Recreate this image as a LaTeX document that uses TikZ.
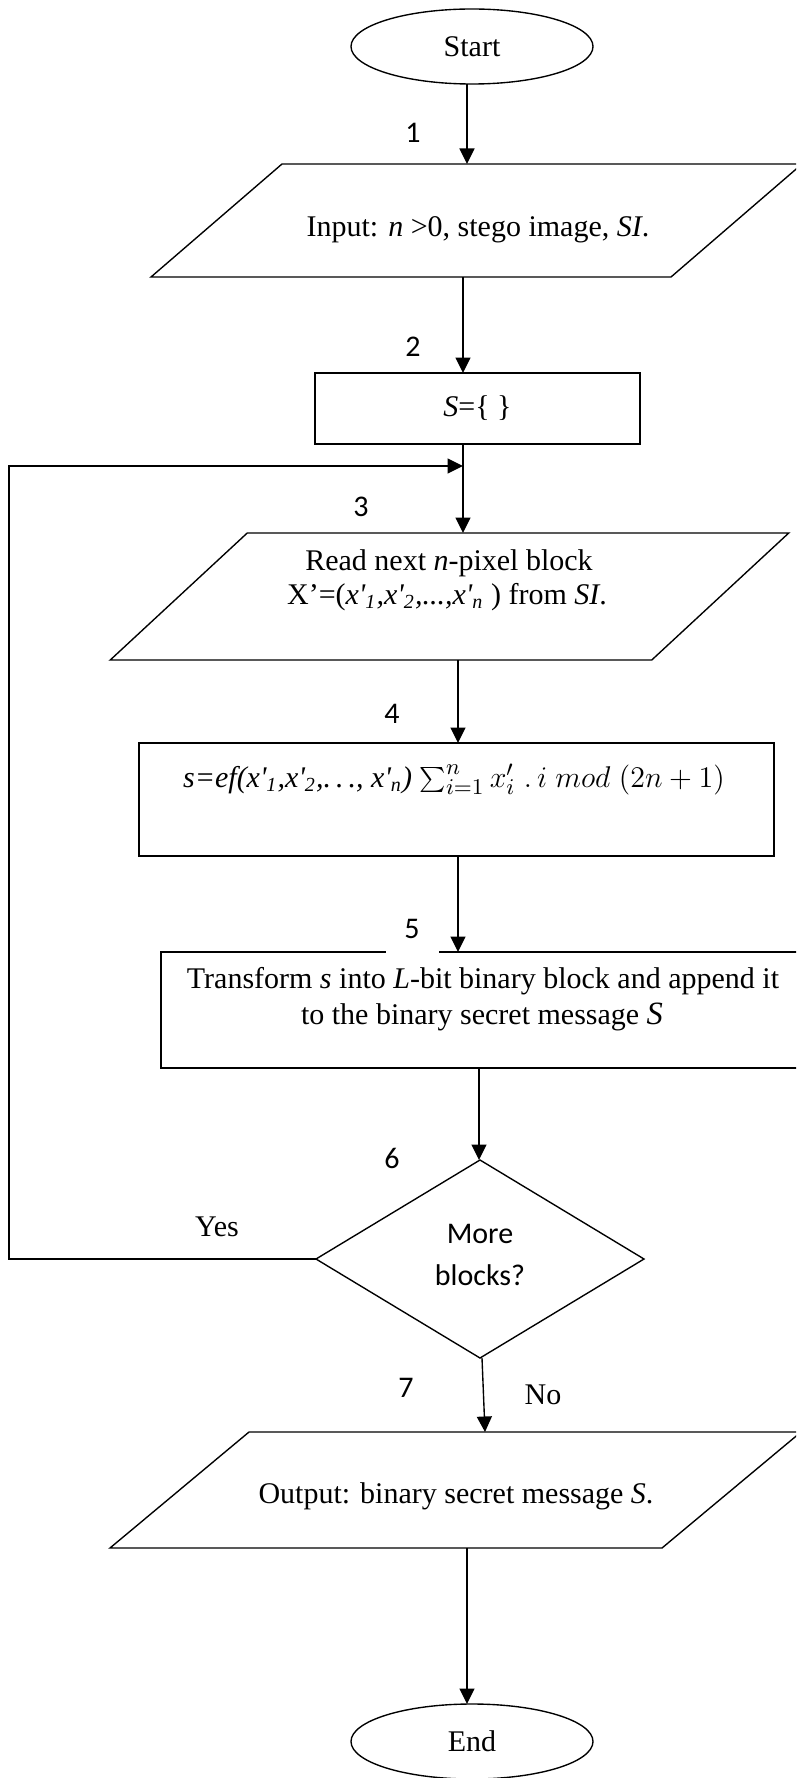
\documentclass[tikz,border=0pt]{standalone}
\usepackage{fontspec}
\setmainfont{Liberation Serif}
\newfontfamily\calibri{Carlito}
\usetikzlibrary{arrows.meta,shapes.geometric}
% one drawing unit = one pixel of the 796 x 1778 sheet
\newcommand{\PX}{0.4pt}
% parallelogram outline around an invisible box node; #2 = half of the slant (px)
\newcommand{\ioframe}[2]{%
  \draw ([xshift=-#2*\PX]#1.south west) -- ([xshift=-#2*\PX]#1.south east)
     -- ([xshift=#2*\PX]#1.north east) -- ([xshift=#2*\PX]#1.north west) -- cycle;}
\newcommand{\pr}{\textquotesingle}

\begin{document}
\begin{tikzpicture}[x=0.4pt, y=-0.4pt, line width=0.55pt,
  every node/.style={inner sep=0pt, outer sep=0pt},
  txt/.style={font=\fontsize{12}{14}\selectfont, anchor=base},
  lbl/.style={font=\calibri\fontsize{12}{14}\selectfont, anchor=base},
  term/.style={draw, ellipse, minimum width=242*\PX, minimum height=75*\PX,
               font=\fontsize{12}{14}\selectfont},
  procbox/.style={draw, rectangle},
  iobox/.style={rectangle},
  decision/.style={draw, diamond, minimum width=328*\PX, minimum height=198*\PX},
  arr/.style={-{Triangle[length=6.2pt,width=6pt]}}]

\useasboundingbox (0,0) rectangle (796,1778);
\clip (0,0) rectangle (796,1778);

% ---------- shapes ----------
\node[term] (start) at (472,46.5) {Start};

\node[iobox, minimum width=520*\PX, minimum height=113*\PX] (in) at (476.5,220.5) {};
\ioframe{in}{65.5}

\node[procbox, minimum width=325*\PX, minimum height=71*\PX,
      font=\fontsize{12}{14}\selectfont] (init) at (477.5,408.5) {\textit{S}=\{ \}};

\node[iobox, minimum width=541.5*\PX, minimum height=127*\PX] (read) at (449.5,596.5) {};
\ioframe{read}{68.5}

\node[procbox, minimum width=635*\PX, minimum height=113*\PX] (calc) at (456.5,799.5) {};

\node[procbox, minimum width=644*\PX, minimum height=116*\PX] (conv) at (483,1010) {};

\node[decision] (dec) at (480,1259) {};

\node[iobox, minimum width=552*\PX, minimum height=116*\PX] (out) at (455.5,1490) {};
\ioframe{out}{69.5}

\node[term] (end) at (472,1741.5) {End};

% ---------- texts inside the shapes ----------
\node[txt] (in-t) at (478,237) {Input: \textit{n} >0, stego image, \textit{SI}.};
\node[txt] (read-t1) at (449,570) {Read next \textit{n}-pixel block};
\node[txt] (read-t2) at (447,604) {X’=(\textit{x\pr\textsubscript{1},x\pr\textsubscript{2},...,x\pr\textsubscript{n}} ) from \textit{SI}.};
\node[txt] (calc-t) at (454,787) {\textit{s=ef(x\pr\textsubscript{1},x\pr\textsubscript{2},.\,.\,., x\pr\textsubscript{n})}
  {\fontsize{12.5}{15}\selectfont$\sum_{i=1}^{n} x'_{i}\;.\,i\; mod\;(2n+1)$}};
\node[txt] (conv-t1) at (483,988) {Transform \textit{s} into \textit{L}-bit binary block and append it};
\node[txt] (conv-t2) at (482,1024) {to the binary secret message \textit{\fontsize{13}{14}\selectfont S}};
\node[lbl] (dec-t1) at (480,1243) {More};
\node[lbl] (dec-t2) at (480,1285) {blocks?};
\node[txt] (out-t) at (456,1503) {Output: binary secret message \textit{S}.};

% ---------- columns of the vertical connectors ----------
\coordinate (xa) at (467,0);
\coordinate (xb) at (463,0);
\coordinate (xc) at (458,0);
\coordinate (xd) at (479,0);
\coordinate (xe) at (482,0);
\coordinate (xf) at (485,0);
\coordinate (loopl) at (9,466);
\coordinate (loopr) at (463,466);

% ---------- connectors ----------
\draw[arr] (start.south -| xa) -- (in.north -| xa);
\draw[arr] (in.south -| xb) -- (init.north -| xb);
\draw[arr] (init.south -| xb) -- (read.north -| xb);
\draw[arr] (read.south -| xc) -- (calc.north -| xc);
\draw[arr] (calc.south -| xc) -- (conv.north -| xc);
\draw[arr] (conv.south -| xd) -- (dec.north -| xd);
\draw[arr] (dec.south -| xe) -- (out.north -| xf);
\draw[arr] (out.south -| xa) -- (end.north -| xa);
\draw[arr] (dec.west) -- (dec.west -| loopl) -- (loopl) -- (loopr);

% ---------- step numbers and branch labels ----------
\node[lbl] (n1) at (413,143) {1};
\node[lbl] (n2) at (413,356) {2};
\node[lbl] (n3) at (361,516) {3};
\node[lbl] (n4) at (392,723) {4};
\node[lbl, fill=white, minimum width=53*\PX, text depth=16*\PX] (n5) at (412,938) {5};
\node[lbl] (n6) at (392,1168) {6};
\node[lbl] (n7) at (406,1397) {7};
\node[txt] (yes) at (217,1236) {Yes};
\node[txt] (no) at (543,1404) {No};
\end{tikzpicture}
\end{document}
